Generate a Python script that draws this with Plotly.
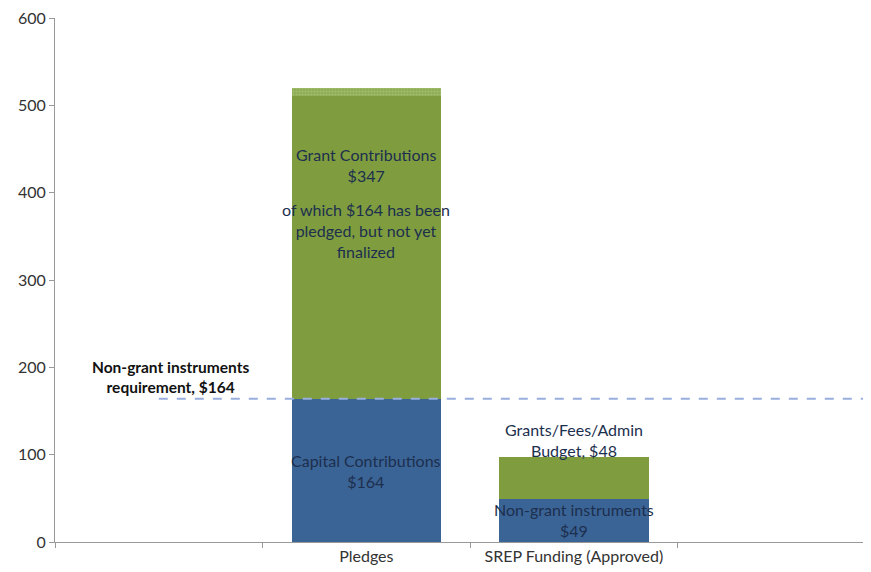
import plotly.graph_objects as go

categories = [" ", "Pledges", "SREP Funding (Approved)", "  "]
bar_cats = ["Pledges", "SREP Funding (Approved)"]
blue_values = [164, 49]
green_values = [347, 48]
hatched_values = [9, 0]
requirement = 164

blue = "#3b6496"
green = "#7f9d3f"
font = "Lato, Open Sans, sans-serif"

fig = go.Figure()
fig.add_bar(x=bar_cats, y=blue_values, marker_color=blue, marker_line_width=0, width=0.72)
fig.add_bar(x=bar_cats, y=green_values, marker_color=green, marker_line_width=0, width=0.72)
fig.add_bar(x=bar_cats, y=hatched_values, width=0.72,
            marker=dict(color="#8fae55", line_width=0,
                        pattern=dict(shape=".", fgcolor="#b5c98c", size=3, solidity=0.4)))

fig.add_shape(type="line", xref="x", yref="y", x0=0, x1=3.5, y0=requirement, y1=requirement,
              line=dict(color="#99aedd", width=2, dash="dash"))

txt = "#1c2f4e"
ann = [
    ("Pledges", 432, "Grant Contributions<br>$347"),
    ("Pledges", 357, "of which $164 has been<br>pledged, but not yet<br>finalized"),
    ("Pledges", 81, "Capital Contributions<br>$164"),
    ("SREP Funding (Approved)", 117, "Grants/Fees/Admin<br>Budget, $48"),
    ("SREP Funding (Approved)", 25, "Non-grant instruments<br>$49"),
]
for x, y, t in ann:
    fig.add_annotation(x=x, y=y, text=t, showarrow=False,
                       font=dict(family=font, size=16, color=txt), align="center")
fig.add_annotation(x=categories[0], y=189, xshift=12, text="<b>Non-grant instruments<br>requirement, $164</b>",
                   showarrow=False, font=dict(family=font, size=15.5, color="#111"), align="center")

fig.update_layout(
    barmode="stack", showlegend=False, width=871, height=572,
    margin=dict(l=47, r=0, t=10, b=38, autoexpand=False),
    plot_bgcolor="white", paper_bgcolor="white",
    font=dict(family=font, size=16, color="#333"),
    xaxis=dict(type="category", categoryorder="array", categoryarray=categories,
               range=[-0.5, 3.47], tickson="boundaries", ticks="outside", ticklen=5,
               tickcolor="#999", showline=True, linecolor="#999", linewidth=1,
               showgrid=False, tickfont=dict(size=16, color="#333"), automargin=False),
    yaxis=dict(range=[0, 600], dtick=100, ticks="outside", ticklen=5, tickcolor="#999",
               showline=True, linecolor="#999", linewidth=1, showgrid=False, zeroline=False,
               tickfont=dict(size=16, color="#333"), automargin=False,
               ticklabeloverflow="allow"),
)
fig.write_html("out.html")
